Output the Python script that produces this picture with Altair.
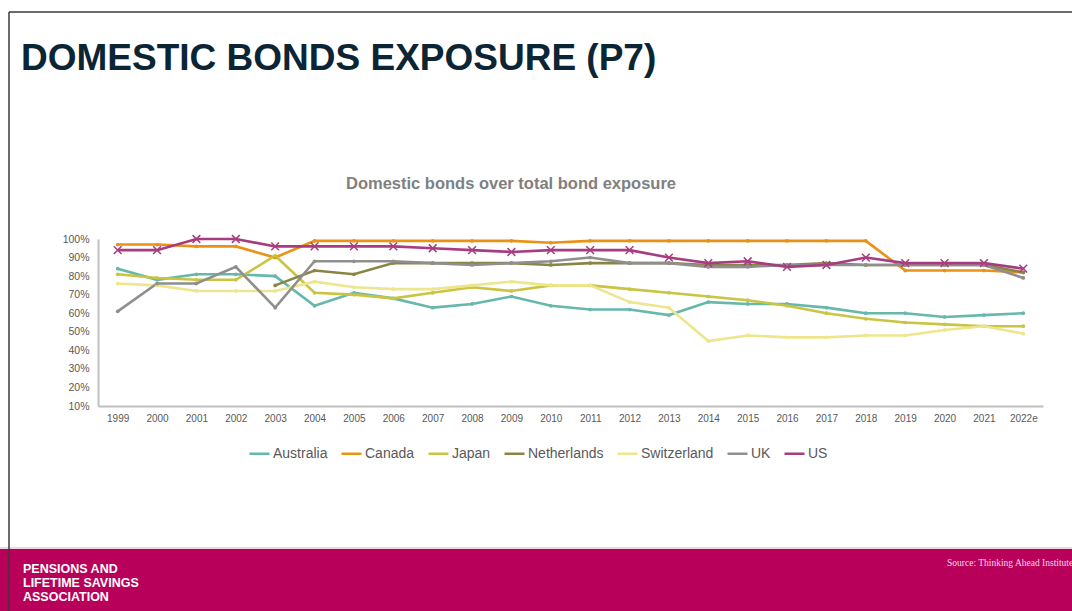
import altair as alt
import pandas as pd

years = ["1999", "2000", "2001", "2002", "2003", "2004", "2005", "2006", "2007", "2008",
         "2009", "2010", "2011", "2012", "2013", "2014", "2015", "2016", "2017", "2018",
         "2019", "2020", "2021", "2022e"]

australia = [84, 78, 81, 81, 80, 64, 71, 68, 63, 65, 69, 64, 62, 62, 59, 66, 65, 65, 63, 60, 60, 58, 59, 60]
canada = [97, 97, 96, 96, 90, 99, 99, 99, 99, 99, 99, 98, 99, 99, 99, 99, 99, 99, 99, 99, 83, 83, 83, 82]
japan = [81, 79, 78, 78, 91, 71, 70, 68, 71, 74, 72, 75, 75, 73, 71, 69, 67, 64, 60, 57, 55, 54, 53, 53]
netherlands = [None, None, None, None, 75, 83, 81, 87, 87, 87, 87, 86, 87, 87, 87, 86, 86, 86, 87, 86, 86, 86, 86, 82]
switzerland = [76, 75, 72, 72, 72, 77, 74, 73, 73, 75, 77, 75, 75, 66, 63, 45, 48, 47, 47, 48, 48, 51, 53, 49]
uk = [61, 76, 76, 85, 63, 88, 88, 88, 87, 86, 87, 88, 90, 87, 87, 85, 85, 86, 86, 86, 86, 86, 86, 79]
us = [94, 94, 100, 100, 96, 96, 96, 96, 95, 94, 93, 94, 94, 94, 90, 87, 88, 85, 86, 90, 87, 87, 87, 84]

countries = ["Australia", "Canada", "Japan", "Netherlands", "Switzerland", "UK", "US"]
colors = ["#66b8ab", "#ea9215", "#c9c442", "#8b8545", "#eee68c", "#8f8f8f", "#a83c80"]
y_ticks = [0.1, 0.2, 0.3, 0.4, 0.5, 0.6, 0.7, 0.8, 0.9, 1.0]

series = [australia, canada, japan, netherlands, switzerland, uk, us]
rows = []
for name, vals in zip(countries, series):
    for yr, v in zip(years, vals):
        if v is not None:
            rows.append({"year": yr, "country": name, "value": v / 100.0})
df = pd.DataFrame(rows)

W, H = 945, 167
PL, PT = 98, 239
TOTAL_W, TOTAL_H = 1072, 611

sans = "Liberation Sans"

x_enc = alt.X("year:O", sort=years, title=None,
              scale=alt.Scale(type="point", padding=0.5),
              axis=alt.Axis(labelAngle=0, labelFontSize=10, labelColor="#595959", labelFont=sans,
                            ticks=False, domainColor="#c0c0c0", domainWidth=2, labelPadding=7))
y_enc = alt.Y("value:Q", title=None,
              scale=alt.Scale(domain=[0.1, 1.0], nice=False, zero=False),
              axis=alt.Axis(values=y_ticks, format=".0%", labelFontSize=10.5, labelColor="#595959",
                            labelFont=sans, ticks=False, grid=False, domainColor="#c0c0c0",
                            domainWidth=2, labelPadding=9))
color_enc = alt.Color("country:N", scale=alt.Scale(domain=countries, range=colors),
                      legend=alt.Legend(title=None, orient="none", direction="horizontal",
                                        legendX=150, legendY=203, symbolType="stroke",
                                        symbolSize=400, symbolStrokeWidth=2.5,
                                        labelFontSize=14, labelColor="#595959", labelFont=sans,
                                        columnPadding=8, labelOffset=2))

base = alt.Chart(df)

lines = base.mark_line(strokeWidth=2.6).encode(x=x_enc, y=y_enc, color=color_enc)

dots = base.transform_filter(alt.datum.country != "US").mark_point(
    filled=True, size=14, opacity=1).encode(x=x_enc, y=y_enc, color=color_enc)

xs = base.transform_filter(alt.datum.country == "US").mark_point(
    shape="M-1,-1L1,1M-1,1L1,-1", filled=False, size=60, strokeWidth=1.5, opacity=1
).encode(x=x_enc, y=y_enc, color=color_enc)

one = pd.DataFrame({"k": [0]})

def txt(text, x, y, **kw):
    return alt.Chart(one).mark_text(text=text, **kw).encode(x=alt.value(x - PL), y=alt.value(y - PT))

footer = alt.Chart(one).mark_rect(color="#b8005a").encode(
    x=alt.value(-PL), x2=alt.value(TOTAL_W - PL), y=alt.value(549 - PT), y2=alt.value(TOTAL_H - PT))
footer_line = alt.Chart(one).mark_rule(color="#f2d3df", strokeWidth=2).encode(
    x=alt.value(-PL), x2=alt.value(TOTAL_W - PL), y=alt.value(548 - PT))
frame_left = alt.Chart(one).mark_rule(color="#3a3a3a", strokeWidth=1.5).encode(
    x=alt.value(9 - PL), y=alt.value(12 - PT), y2=alt.value(TOTAL_H - PT))
frame_top = alt.Chart(one).mark_rule(color="#3a3a3a", strokeWidth=1.5).encode(
    x=alt.value(9 - PL), x2=alt.value(TOTAL_W - PL), y=alt.value(12 - PT))

title = txt("DOMESTIC BONDS EXPOSURE (P7)", 21, 70, font=sans, fontSize=37, fontWeight="bold",
            color="#0b2535", align="left", baseline="alphabetic")
subtitle = txt("Domestic bonds over total bond exposure", 511, 189, font=sans, fontSize=16.5,
               fontWeight="bold", color="#808080", align="center", baseline="alphabetic")
logo1 = txt("PENSIONS AND", 23, 573, font=sans, fontSize=12.5, fontWeight="bold", color="white",
            align="left", baseline="alphabetic")
logo2 = txt("LIFETIME SAVINGS", 23, 587, font=sans, fontSize=12.5, fontWeight="bold", color="white",
            align="left", baseline="alphabetic")
logo3 = txt("ASSOCIATION", 23, 601, font=sans, fontSize=12.5, fontWeight="bold", color="white",
            align="left", baseline="alphabetic")
source = txt("Source: Thinking Ahead Institute", 947, 566, font="Liberation Serif", fontSize=9.5,
             color="#f4dce6", align="left", baseline="alphabetic")

chart = alt.layer(
    footer, footer_line, frame_left, frame_top, title, subtitle, logo1, logo2, logo3, source,
    lines, dots, xs
).properties(
    width=W, height=H,
    autosize=alt.AutoSizeParams(type="none"),
    padding={"left": PL, "top": PT, "right": TOTAL_W - PL - W, "bottom": TOTAL_H - PT - H},
    background="white",
).configure_view(stroke=None)

chart.save("out.html", embed_options={"renderer": "svg", "actions": False})
